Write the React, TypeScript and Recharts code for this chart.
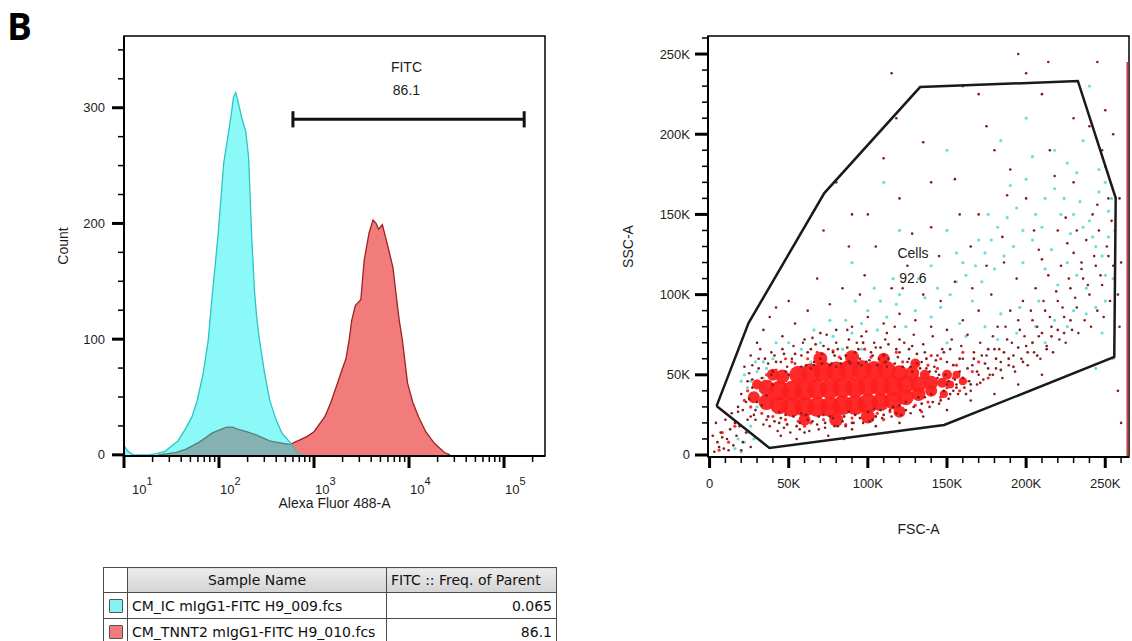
import React from 'react'
import { ComposedChart, Area, Scatter, XAxis, YAxis, ReferenceLine, ReferenceArea, Label } from 'recharts'

const FONT = '"Liberation Sans", Arial, sans-serif'
const INK = '#1c1c1c'

// histogram: Alexa Fluor 488-A (log) vs count
const icCurve: [number, number][] = [
  [10, 8], [11, 3], [12.5, 0], [18, 0], [22, 1], [27, 3], [31, 7], [37, 12], [44, 22], [52, 33],
  [59, 47], [68, 70], [77, 99], [84, 134], [98, 191], [112, 252], [125, 277], [135, 295], [142, 309],
  [150, 313], [159, 305], [175, 290], [191, 280], [205, 257], [221, 188], [237, 140], [250, 118],
  [268, 98], [300, 72], [342, 47], [400, 30], [458, 19], [571, 10], [645, 3], [711, 0], [800, 0],
]
const tnnt2Curve: [number, number][] = [
  [23, 0], [35, 2], [45, 5], [62, 11], [85, 19], [120, 24], [139, 24], [160, 22], [195, 20], [250, 17],
  [340, 12], [470, 10], [560, 9], [711, 13], [850, 16], [1000, 20], [1300, 33], [1500, 45], [1700, 58],
  [2000, 75], [2170, 83], [2350, 100], [2490, 116], [2720, 129], [3110, 134], [3370, 168], [3800, 192],
  [4180, 203], [4500, 200], [4790, 195], [5240, 199], [5800, 185], [6770, 162], [7400, 135], [7900, 116],
  [8520, 99], [9650, 62], [11000, 45], [12600, 33], [15000, 20], [18500, 10], [23600, 2], [27000, 0],
]
const logTicks = [
  10, 20, 30, 40, 50, 60, 70, 80, 90, 100, 200, 300, 400, 500, 600, 700, 800, 900, 1000,
  2000, 3000, 4000, 5000, 6000, 7000, 8000, 9000, 10000, 20000, 30000, 40000, 50000, 60000,
  70000, 80000, 90000, 100000, 200000,
]
const countTicks = [0, 25, 50, 75, 100, 125, 150, 175, 200, 225, 250, 275, 300, 325, 350]
const fitcGate = { from: 600, to: 163000, level: 290 }
const fitcLabels = [
  { x: 9400, y: 335, text: 'FITC' },
  { x: 9400, y: 315, text: '86.1' },
]

// scatter: FSC-A vs SSC-A, values in K
const scatterTicks = [
  0, 10000, 20000, 30000, 40000, 50000, 60000, 70000, 80000, 90000, 100000, 110000, 120000, 130000,
  140000, 150000, 160000, 170000, 180000, 190000, 200000, 210000, 220000, 230000, 240000, 250000, 260000,
]
const cellsGate: [number, number][] = [
  [4.4, 30.5], [24.6, 82.3], [72.5, 163.3], [133, 229.4], [232.7, 233.2], [256.6, 160.2],
  [255.7, 61.1], [148.2, 18.7], [37.8, 4.4], [4.4, 30.5],
]
const cellsLabels = [
  { x: 128500, y: 126000, text: 'Cells' },
  { x: 128500, y: 110500, text: '92.6' },
]
// dense core [xK, yK, radius px]
const redCore: [number, number, number][] = [
  [28, 36, 6], [36, 33, 8], [44, 31, 9], [52, 30, 10], [60, 30, 10], [68, 30, 10], [76, 30, 10],
  [84, 31, 10], [92, 31, 10], [100, 32, 10], [108, 33, 9], [116, 34, 9], [124, 36, 8], [132, 38, 7],
  [140, 40, 6], [36, 42, 8], [44, 40, 10], [52, 40, 10], [60, 40, 10], [68, 41, 10], [76, 41, 10],
  [84, 42, 10], [92, 42, 10], [100, 43, 10], [108, 43, 10], [116, 43, 10], [124, 44, 9], [132, 44, 8],
  [140, 45, 7], [147, 45, 5], [46, 49, 7], [56, 50, 9], [64, 51, 10], [72, 52, 10], [80, 52, 10],
  [88, 53, 10], [96, 53, 10], [104, 53, 9], [112, 53, 9], [120, 51, 8], [128, 51, 7], [136, 50, 5],
  [152, 44, 4], [156, 50, 4], [148, 38, 4], [60, 22, 6], [80, 22, 7], [100, 24, 7], [120, 27, 6],
  [70, 60, 7], [90, 61, 7], [110, 60, 6], [130, 57, 5], [150, 50, 5], [160, 46, 4], [40, 50, 6], [30, 44, 5],
]
const redSpeckle: [number, number][] = [
  [22, 34], [24, 40], [26, 30], [30, 46], [33, 26], [40, 24], [48, 22], [56, 21], [64, 20], [72, 22],
  [80, 21], [90, 23], [98, 24], [106, 26], [114, 27], [122, 29], [130, 31], [138, 33], [146, 36],
  [150, 42], [154, 48], [150, 52], [144, 54], [138, 56], [130, 57], [122, 58], [112, 60], [102, 61],
  [92, 62], [82, 61], [72, 61], [62, 60], [52, 58], [42, 53], [36, 50], [158, 40], [162, 46], [156, 56],
  [166, 52], [146, 60], [118, 64], [98, 66], [78, 65], [12, 8], [8, 14], [16, 18], [6, 3], [60, 18],
  [86, 19], [110, 22], [134, 27], [170, 58], [176, 48], [160, 64], [140, 62], [68, 64], [48, 60],
]
const maroonRing: [number, number][] = [
  [25, 35], [27, 47], [29, 28], [31, 54], [33, 31], [35, 60], [37, 24], [39, 50], [41, 21], [42, 58],
  [45, 23], [47, 63], [49, 19], [50, 50], [53, 24], [54, 63], [57, 20], [58, 55], [61, 25], [62, 64],
  [65, 21], [66, 56], [67, 69], [69, 24], [71, 57], [73, 20], [75, 66], [76, 56], [78, 23], [79, 62],
  [81, 18], [83, 57], [85, 24], [87, 67], [88, 58], [90, 20], [92, 64], [94, 57], [95, 23], [97, 70],
  [99, 58], [101, 21], [103, 62], [105, 24], [106, 56], [108, 67], [110, 25], [111, 58], [113, 69], [114, 28],
  [117, 57], [118, 26], [120, 64], [122, 55], [124, 28], [126, 66], [127, 55], [129, 30], [131, 63], [133, 54],
  [134, 32], [137, 60], [139, 52], [141, 33], [143, 59], [145, 50], [146, 34], [148, 64], [151, 46], [152, 38],
  [154, 56], [156, 42], [158, 60], [160, 48], [162, 38], [163, 54], [165, 44], [167, 60], [169, 52], [171, 45],
  [174, 57], [176, 66], [179, 50], [181, 60], [184, 53], [186, 64], [189, 60], [192, 55], [195, 67], [198, 58],
  [201, 64], [204, 70], [207, 62], [210, 76], [213, 66], [216, 74], [220, 78], [224, 76], [228, 84],
]
const maroonDots: [number, number][] = [
  [28, 25], [30, 33], [27, 42], [33, 48], [36, 22], [40, 52], [44, 20], [45, 58], [48, 25], [52, 60],
  [55, 18], [58, 62], [62, 22], [64, 66], [68, 19], [70, 60], [72, 68], [76, 24], [78, 64], [80, 70],
  [84, 21], [86, 62], [88, 72], [92, 25], [94, 66], [96, 74], [100, 27], [102, 64], [104, 70], [108, 28],
  [110, 62], [112, 76], [116, 30], [118, 66], [120, 72], [124, 33], [126, 60], [128, 68], [132, 36],
  [134, 58], [136, 64], [140, 38], [142, 55], [144, 62], [148, 40], [150, 58], [152, 66], [156, 44],
  [158, 52], [160, 60], [164, 46], [166, 56], [170, 50], [172, 62], [176, 54], [180, 66], [184, 58],
  [188, 72], [192, 62], [196, 78], [200, 68], [204, 84], [208, 74], [212, 90], [216, 80], [220, 96],
  [224, 86], [228, 104], [232, 92], [236, 110], [240, 100], [244, 118], [248, 106], [252, 124], [182, 80],
  [190, 90], [198, 96], [206, 104], [214, 112], [222, 118], [230, 126], [238, 134], [246, 140], [254, 146],
  [178, 100], [194, 110], [210, 122], [226, 132], [242, 150], [170, 90], [160, 84], [150, 78], [140, 80],
  [130, 84], [120, 88], [110, 82], [100, 86], [90, 80], [80, 78], [70, 76], [60, 72], [95, 100], [115, 104],
  [135, 100], [155, 108], [175, 118], [125, 118], [145, 124], [165, 130], [185, 136], [205, 140], [225, 148],
  [245, 156], [105, 130], [140, 142], [170, 150], [200, 160], [230, 170], [250, 180], [120, 160], [155, 172],
  [190, 178], [215, 190], [240, 205], [90, 150], [135, 195], [175, 205], [210, 225], [250, 215], [80, 170],
  [110, 185], [160, 230], [200, 238], [255, 200], [115, 238], [235, 120], [220, 140], [45, 12], [60, 14],
  [75, 12], [90, 16], [105, 18], [120, 20], [135, 24], [150, 28], [165, 34], [180, 38], [195, 44], [210, 50],
  [55, 10], [85, 10], [3, 2], [5, 8], [7, 14], [4, 20], [9, 4], [11, 10], [13, 16], [10, 22], [15, 6],
  [17, 12], [19, 18], [14, 26], [21, 8], [23, 14], [6, 5], [8, 11], [12, 3], [16, 20], [20, 3], [24, 22],
  [2, 12], [18, 27], [26, 5], [18, 30], [20, 38], [24, 46], [22, 55], [26, 62], [30, 70], [34, 78],
  [38, 86], [42, 92], [50, 96], [46, 74], [54, 82], [258, 40], [259, 80], [260, 120], [259, 160], [260, 20],
  [258, 100],
]
const maroonHalo: [number, number][] = [
  [21, 28], [23, 33], [25, 51], [27, 56], [29, 22], [31, 60], [34, 19], [37, 57], [39, 64], [32, 66],
  [26, 24], [38, 18], [41, 62], [43, 15], [46, 66], [47, 17], [49, 55], [51, 14], [53, 68], [54, 57],
  [57, 16], [59, 70], [61, 56], [63, 15], [65, 73], [66, 58], [69, 16], [71, 63], [73, 17], [74, 75],
  [77, 57], [79, 18], [81, 66], [83, 60], [86, 18], [87, 78], [89, 57], [91, 20], [93, 70], [95, 60],
  [97, 20], [99, 77], [101, 59], [103, 22], [105, 67], [107, 60], [109, 23], [111, 72], [113, 60], [115, 24],
  [117, 80], [119, 61], [121, 25], [123, 70], [125, 58], [127, 26], [129, 75], [131, 57], [133, 28], [135, 69],
  [137, 54], [139, 30], [141, 74], [143, 52], [145, 32], [147, 66], [149, 50], [151, 35], [153, 72], [155, 47],
  [157, 38], [159, 68], [161, 42], [163, 75], [165, 40], [167, 64], [169, 44], [171, 70], [173, 47], [175, 62],
  [177, 50], [179, 74], [181, 54], [183, 66], [185, 48], [187, 80], [189, 56], [191, 70], [193, 52], [195, 84],
  [197, 60], [199, 74], [201, 56], [203, 90], [205, 64], [207, 80], [209, 60], [211, 96], [213, 68], [215, 86],
  [217, 64], [219, 102], [221, 72], [223, 92], [225, 70], [227, 110], [229, 78], [231, 98], [233, 76], [235, 116],
  [237, 84], [239, 106], [241, 80], [243, 124], [245, 90], [247, 112], [249, 86], [251, 130], [253, 96], [255, 118],
  [44, 27], [58, 26], [72, 25], [88, 27], [104, 29], [120, 31], [136, 36], [48, 52], [64, 54], [80, 55],
  [96, 56], [112, 55], [128, 52], [144, 48], [36, 37], [150, 44], [40, 44], [154, 40], [62, 90], [76, 94],
  [84, 104], [98, 112], [122, 104], [146, 96], [166, 104], [186, 120], [208, 128], [232, 140], [252, 160], [68, 110],
  [88, 130], [128, 138], [158, 150], [188, 162], [218, 174], [248, 190], [100, 150], [140, 170], [180, 190], [230, 210],
  [72, 140], [118, 210], [170, 225], [214, 245], [195, 250], [245, 245],
]
const cyanDots: [number, number][] = [
  [28, 38], [30, 44], [32, 40], [26, 46], [34, 48], [30, 52], [24, 42], [36, 54], [38, 46], [27, 34],
  [33, 36], [29, 58], [40, 60], [22, 50], [20, 2], [22, 8], [24, 14], [18, 10], [26, 18], [28, 10],
  [16, 4], [70, 70], [78, 74], [84, 66], [90, 76], [96, 82], [100, 90], [106, 78], [112, 86], [118, 94],
  [124, 80], [130, 90], [136, 98], [92, 96], [104, 104], [116, 110], [64, 58], [56, 52], [48, 44],
  [150, 70], [158, 82], [166, 96], [172, 108], [180, 116], [186, 124], [192, 130], [198, 120], [204, 134],
  [210, 142], [216, 128], [222, 150], [228, 138], [234, 158], [240, 146], [246, 164], [252, 152],
  [256, 140], [244, 130], [232, 112], [220, 106], [208, 96], [196, 92], [184, 88], [174, 80], [162, 74],
  [238, 88], [250, 96], [255, 110], [248, 76], [226, 80], [212, 70], [160, 120], [150, 140], [140, 118],
  [176, 150], [200, 172], [226, 182], [250, 170], [120, 140], [184, 196], [236, 196], [255, 60], [244, 54],
  [110, 170], [150, 190], [90, 120], [200, 210], [240, 230], [140, 86], [146, 92], [152, 100], [156, 108],
  [162, 112], [168, 118], [174, 126], [178, 134], [182, 142], [188, 148], [194, 154], [198, 140], [206, 150],
  [212, 160], [218, 166], [224, 160], [230, 150], [236, 142], [242, 136], [248, 124], [252, 136], [254, 160],
  [246, 178], [232, 176], [218, 190], [204, 186], [190, 168], [170, 134], [156, 126], [144, 104], [132, 110],
  [120, 100], [108, 96], [96, 66], [86, 84], [76, 84], [66, 78], [58, 66], [50, 70], [42, 70], [44, 36],
  [26, 38], [30, 30], [20, 46], [34, 58], [212, 116], [226, 120], [238, 104], [250, 112], [244, 92], [230, 90],
  [218, 84], [206, 80], [194, 76], [182, 72],
]

// table under the histogram
const sampleNames = ['CM_IC mIgG1-FITC H9_009.fcs', 'CM_TNNT2 mIgG1-FITC H9_010.fcs']
const sampleFreqs = ['0.065', '86.1']
const sampleColors = ['#86f2f2', '#f27c7c']

const histData = (() => {
  const xs = Array.from(new Set([...icCurve.map((p) => p[0]), ...tnnt2Curve.map((p) => p[0])])).sort((a, b) => a - b)
  const ic = new Map(icCurve)
  const tn = new Map(tnnt2Curve)
  return xs.map((x) => ({ x, ic: ic.has(x) ? ic.get(x) : null, tnnt2: tn.has(x) ? tn.get(x) : null }))
})()

const toK = (arr: [number, number][]) => arr.map(([x, y]) => ({ x: x * 1000, y: y * 1000 }))
const toKr = (arr: [number, number, number][]) => arr.map(([x, y, r]) => ({ x: x * 1000, y: y * 1000, r }))

const isDecade = (v: number) => {
  const l = Math.log10(v)
  return Math.abs(l - Math.round(l)) < 1e-6
}

const LogTick = (props: any) => {
  const { x, y, payload } = props
  const major = isDecade(payload.value)
  const exp = Math.round(Math.log10(payload.value))
  return (
    <g>
      <line x1={x} y1={y} x2={x} y2={y + (major ? 12 : 6)} stroke="#000" strokeWidth={major ? 3 : 1.5} />
      {major && (
        <text x={x + (exp === 1 ? 8 : 1)} y={y + 38} fontSize={13} fill={INK} fontFamily={FONT}>
          10
          <tspan dy={-9} fontSize={11}>{exp}</tspan>
        </text>
      )}
    </g>
  )
}

const CountTick = (props: any) => {
  const { x, y, payload } = props
  const major = payload.value % 100 === 0
  return (
    <g>
      <line x1={x - (major ? 12 : 6)} y1={y} x2={x} y2={y} stroke="#000" strokeWidth={major ? 3 : 1.5} />
      {major && (
        <text x={x - 19} y={y + 4.5} textAnchor="end" fontSize={13} fill={INK} fontFamily={FONT}>
          {payload.value}
        </text>
      )}
    </g>
  )
}

const kLabel = (v: number) => (v === 0 ? '0' : `${v / 1000}K`)

const FscTick = (props: any) => {
  const { x, y, payload } = props
  const major = payload.value % 50000 === 0
  return (
    <g>
      <line x1={x} y1={y} x2={x} y2={y + (major ? 11 : 6)} stroke="#000" strokeWidth={major ? 3 : 1.5} />
      {major && (
        <text x={x} y={y + 31} textAnchor="middle" fontSize={13} fill={INK} fontFamily={FONT}>
          {kLabel(payload.value)}
        </text>
      )}
    </g>
  )
}

const SscTick = (props: any) => {
  const { x, y, payload } = props
  const major = payload.value % 50000 === 0
  return (
    <g>
      <line x1={x - (major ? 13 : 6)} y1={y} x2={x} y2={y} stroke="#000" strokeWidth={major ? 3 : 1.5} />
      {major && (
        <text x={x - 18} y={y + 4.5} textAnchor="end" fontSize={13} fill={INK} fontFamily={FONT}>
          {kLabel(payload.value)}
        </text>
      )}
    </g>
  )
}

const axisTitle = (text: string, dx: number, dy: number, vertical = false) => (props: any) => {
  const { x, y, width, height } = props.viewBox
  const cx = x + width / 2 + dx
  const cy = y + height / 2 + dy
  return (
    <text
      x={cx}
      y={cy}
      textAnchor="middle"
      dominantBaseline="central"
      transform={vertical ? `rotate(-90 ${cx} ${cy})` : undefined}
      fontSize={14}
      fill={INK}
      fontFamily={FONT}
    >
      {text}
    </text>
  )
}

const textShape = (p: any) => (
  <text x={p.cx} y={p.cy} textAnchor="middle" dominantBaseline="central" fontSize={14} fill={INK} fontFamily={FONT}>
    {p.payload.text}
  </text>
)

const dot = (fill: string, r: number) => (p: any) => <circle cx={p.cx} cy={p.cy} r={r} fill={fill} />
const blob = (fill: string, opacity: number) => (p: any) => (
  <circle cx={p.cx} cy={p.cy} r={p.payload.r} fill={fill} fillOpacity={opacity} />
)

function Histogram() {
  return (
    <ComposedChart width={560} height={520} data={histData} margin={{ top: 36, right: 15, bottom: 24, left: 64 }}>
      <XAxis
        dataKey="x"
        type="number"
        scale="log"
        domain={[10, 270000]}
        allowDataOverflow
        ticks={logTicks}
        interval={0}
        tick={LogTick}
        tickLine={false}
        tickSize={0}
        tickMargin={0}
        height={40}
        axisLine={{ stroke: '#000', strokeWidth: 2 }}
      >
        <Label content={axisTitle('Alexa Fluor 488-A', 0, 27)} />
      </XAxis>
      <YAxis
        type="number"
        domain={[-1, 362]}
        allowDataOverflow
        ticks={countTicks}
        interval={0}
        tick={CountTick}
        tickLine={false}
        tickSize={0}
        tickMargin={0}
        width={60}
        axisLine={{ stroke: '#000', strokeWidth: 2 }}
      >
        <Label content={axisTitle('Count', -31, 0, true)} />
      </YAxis>
      <Area
        dataKey="tnnt2"
        type="linear"
        connectNulls
        baseValue={-1}
        fill="#f27c7c"
        fillOpacity={1}
        stroke="#9e2222"
        strokeWidth={1.3}
        isAnimationActive={false}
      />
      <Area
        dataKey="ic"
        type="linear"
        connectNulls
        baseValue={-1}
        fill="#00f2f2"
        fillOpacity={0.45}
        stroke="#2cc4c4"
        strokeWidth={1.3}
        isAnimationActive={false}
      />
      <ReferenceLine
        segment={[{ x: fitcGate.from, y: fitcGate.level }, { x: fitcGate.to, y: fitcGate.level }]}
        stroke="#111"
        strokeWidth={3}
      />
      <ReferenceLine
        segment={[{ x: fitcGate.from, y: fitcGate.level - 7 }, { x: fitcGate.from, y: fitcGate.level + 7 }]}
        stroke="#111"
        strokeWidth={3}
      />
      <ReferenceLine
        segment={[{ x: fitcGate.to, y: fitcGate.level - 7 }, { x: fitcGate.to, y: fitcGate.level + 7 }]}
        stroke="#111"
        strokeWidth={3}
      />
      <Scatter data={fitcLabels} dataKey="y" shape={textShape} isAnimationActive={false} />
      <ReferenceArea x1={10} x2={270000} y1={-1} y2={362} fill="none" stroke="#000" strokeWidth={1.5} />
    </ComposedChart>
  )
}

function ScatterPlot() {
  return (
    <ComposedChart width={552} height={560} margin={{ top: 36, right: 3, bottom: 63, left: 68 }}>
      <XAxis
        dataKey="x"
        type="number"
        domain={[-1000, 265000]}
        allowDataOverflow
        ticks={scatterTicks}
        interval={0}
        tick={FscTick}
        tickLine={false}
        tickSize={0}
        tickMargin={0}
        height={40}
        axisLine={{ stroke: '#000', strokeWidth: 2 }}
      >
        <Label content={axisTitle('FSC-A', 0, 52)} />
      </XAxis>
      <YAxis
        dataKey="y"
        type="number"
        domain={[-1250, 261250]}
        allowDataOverflow
        ticks={scatterTicks}
        interval={0}
        tick={SscTick}
        tickLine={false}
        tickSize={0}
        tickMargin={0}
        width={60}
        axisLine={{ stroke: '#000', strokeWidth: 2 }}
      >
        <Label content={axisTitle('SSC-A', -50, 0, true)} />
      </YAxis>
      <Scatter data={toK(cyanDots)} shape={dot('#6fdcdc', 1.6)} isAnimationActive={false} />
      <Scatter data={toKr(redCore)} shape={blob('#ff1e1e', 0.95)} isAnimationActive={false} />
      <Scatter data={toK(redSpeckle)} shape={dot('#ff2a2a', 1.6)} isAnimationActive={false} />
      <Scatter data={toK(maroonRing)} shape={dot('#8a1e1e', 1.4)} isAnimationActive={false} />
      <Scatter data={toK(maroonHalo)} shape={dot('#8a1e1e', 1.3)} isAnimationActive={false} />
      <Scatter data={toK(maroonDots)} shape={dot('#7d1a1a', 1.3)} isAnimationActive={false} />
      <ReferenceLine
        segment={[{ x: 264000, y: -1250 }, { x: 264000, y: 245000 }]}
        stroke="#c04848"
        strokeWidth={2}
      />
      <Scatter
        data={toK(cellsGate)}
        line={{ stroke: '#1a1a1a', strokeWidth: 2.5 }}
        lineJointType="linear"
        shape={() => <g />}
        isAnimationActive={false}
      />
      <Scatter data={cellsLabels} shape={textShape} isAnimationActive={false} />
      <ReferenceArea x1={-1000} x2={265000} y1={-1250} y2={261250} fill="none" stroke="#000" strokeWidth={1.5} />
    </ComposedChart>
  )
}

function SampleTable() {
  const border = '1px solid #4a4a4a'
  const cell: React.CSSProperties = { border, padding: '0 4px', whiteSpace: 'nowrap', overflow: 'hidden' }
  return (
    <table
      style={{
        borderCollapse: 'collapse',
        tableLayout: 'fixed',
        fontFamily: '"DejaVu Sans", sans-serif',
        fontSize: 14,
        color: '#111',
        width: 453,
        border: '1.5px solid #333',
      }}
    >
      <colgroup>
        <col style={{ width: 24 }} />
        <col style={{ width: 259 }} />
        <col style={{ width: 170 }} />
      </colgroup>
      <tbody>
        <tr style={{ height: 25 }}>
          <td style={{ ...cell, background: '#fff' }} />
          <td style={{ ...cell, textAlign: 'center', background: 'linear-gradient(#ececec, #d4d4d4)' }}>Sample Name</td>
          <td style={{ ...cell, background: 'linear-gradient(#ececec, #d4d4d4)', textOverflow: 'clip' }}>
            FITC :: Freq. of Parent
          </td>
        </tr>
        {sampleNames.map((name, i) => (
          <tr key={name} style={{ height: 26 }}>
            <td style={{ ...cell, padding: 0, textAlign: 'center' }}>
              <div
                style={{
                  width: 12,
                  height: 12,
                  margin: '0 auto',
                  background: sampleColors[i],
                  border: '1px solid #555',
                  borderRadius: 1,
                }}
              />
            </td>
            <td style={cell}>{name}</td>
            <td style={{ ...cell, textAlign: 'right' }}>{sampleFreqs[i]}</td>
          </tr>
        ))}
      </tbody>
    </table>
  )
}

export default function App() {
  return (
    <div style={{ position: 'absolute', left: 0, top: 0, width: 1132, height: 641, background: '#fff', overflow: 'hidden' }}>
      <div
        style={{
          position: 'absolute',
          left: 7,
          top: 7,
          fontFamily: '"Open Sans", sans-serif',
          fontWeight: 700,
          fontSize: 37,
          lineHeight: '37px',
          color: '#000',
        }}
      >
        B
      </div>
      <div style={{ position: 'absolute', left: 0, top: 0 }}>
        <Histogram />
      </div>
      <div style={{ position: 'absolute', left: 580, top: 0 }}>
        <ScatterPlot />
      </div>
      <div style={{ position: 'absolute', left: 103, top: 567 }}>
        <SampleTable />
      </div>
    </div>
  )
}
